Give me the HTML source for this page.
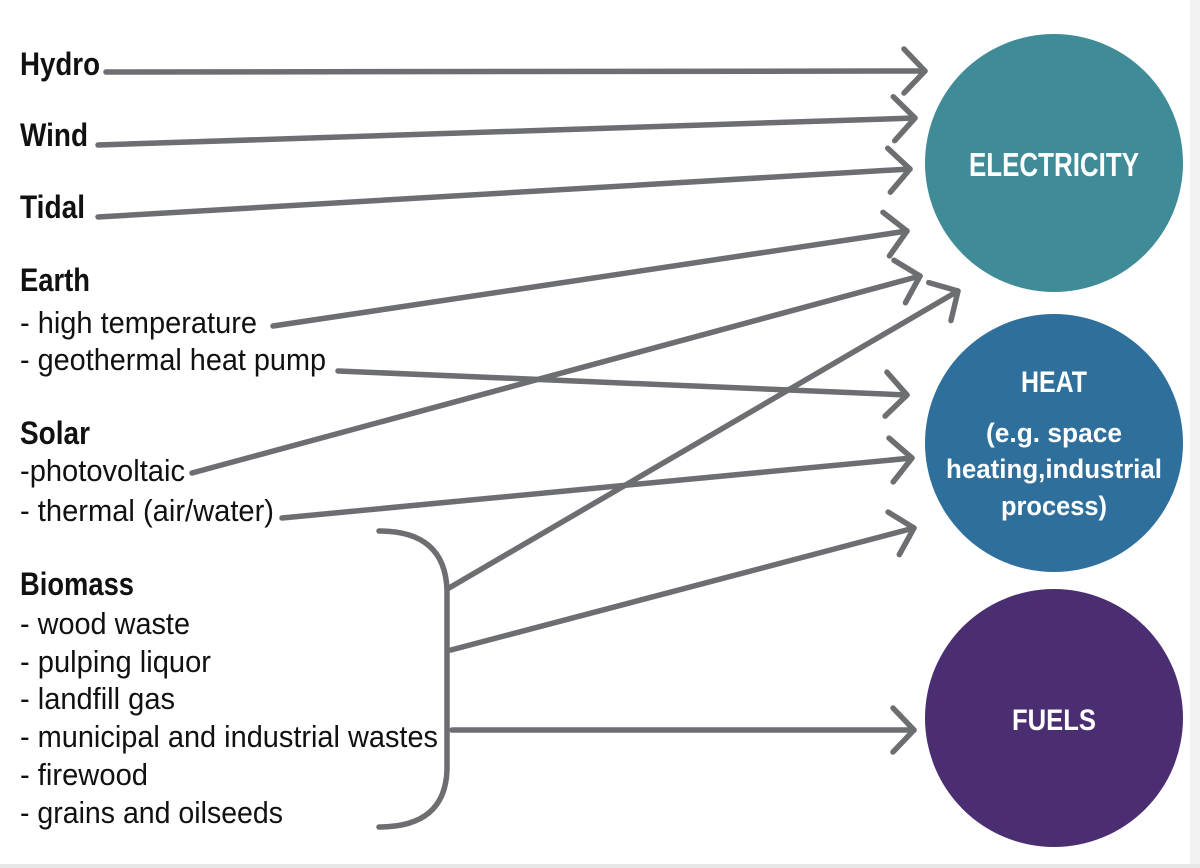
<!DOCTYPE html>
<html><head><meta charset="utf-8"><style>
html,body{margin:0;padding:0;background:#fff;}
svg{display:block;}
text{font-family:"Liberation Sans Narrow","Liberation Sans",sans-serif;fill:#111;}
</style></head><body>
<svg width="1200" height="868" viewBox="0 0 1200 868" xmlns="http://www.w3.org/2000/svg">
<defs>
<marker id="a" markerUnits="userSpaceOnUse" markerWidth="60" markerHeight="60" refX="0" refY="0" viewBox="-30 -30 60 60" orient="auto">
<path d="M-21,-22 L0,0 L-21,22" fill="none" stroke="#6d6e71" stroke-width="5.5" stroke-linecap="round" stroke-linejoin="round"/>
</marker>
</defs>
<rect x="1190" y="0" width="10" height="868" fill="#f2f2f2"/>
<rect x="0" y="864" width="1200" height="4" fill="#e6e6e6"/>
<circle cx="1054" cy="163" r="129" fill="#3f8b97"/>
<circle cx="1054" cy="443" r="129" fill="#2f6f9c"/>
<circle cx="1054" cy="718" r="129" fill="#4b2e72"/>
<g font-weight="bold" text-anchor="middle" style="fill:#fff">
<text x="1054" y="176" font-size="33" textLength="170" lengthAdjust="spacingAndGlyphs" style="fill:#fff">ELECTRICITY</text>
<text x="1054" y="392" font-size="30" textLength="66" lengthAdjust="spacingAndGlyphs" style="fill:#fff">HEAT</text>
<text x="1054" y="442" font-size="27" textLength="136" lengthAdjust="spacingAndGlyphs" style="fill:#fff">(e.g. space</text>
<text x="1054" y="478" font-size="27" textLength="216" lengthAdjust="spacingAndGlyphs" style="fill:#fff">heating,industrial</text>
<text x="1054" y="515" font-size="27" textLength="106" lengthAdjust="spacingAndGlyphs" style="fill:#fff">process)</text>
<text x="1054" y="730" font-size="30" textLength="84" lengthAdjust="spacingAndGlyphs" style="fill:#fff">FUELS</text>
</g>
<g font-size="32" font-weight="bold">
<text x="20" y="75" textLength="80" lengthAdjust="spacingAndGlyphs">Hydro</text>
<text x="20" y="146" textLength="68" lengthAdjust="spacingAndGlyphs">Wind</text>
<text x="20" y="218" textLength="65" lengthAdjust="spacingAndGlyphs">Tidal</text>
<text x="20" y="291" textLength="70" lengthAdjust="spacingAndGlyphs">Earth</text>
<text x="20" y="444" textLength="70" lengthAdjust="spacingAndGlyphs">Solar</text>
<text x="20" y="595" textLength="114" lengthAdjust="spacingAndGlyphs">Biomass</text>
</g>
<g font-size="31">
<text x="20" y="333" textLength="237" lengthAdjust="spacingAndGlyphs">- high temperature</text>
<text x="20" y="370" textLength="306" lengthAdjust="spacingAndGlyphs">- geothermal heat pump</text>
<text x="20" y="481" textLength="165" lengthAdjust="spacingAndGlyphs">-photovoltaic</text>
<text x="20" y="521" textLength="254" lengthAdjust="spacingAndGlyphs">- thermal (air/water)</text>
<text x="20" y="634" textLength="170" lengthAdjust="spacingAndGlyphs">- wood waste</text>
<text x="20" y="672" textLength="191" lengthAdjust="spacingAndGlyphs">- pulping liquor</text>
<text x="20" y="709" textLength="155" lengthAdjust="spacingAndGlyphs">- landfill gas</text>
<text x="20" y="747" textLength="418" lengthAdjust="spacingAndGlyphs">- municipal and industrial wastes</text>
<text x="20" y="785" textLength="128" lengthAdjust="spacingAndGlyphs">- firewood</text>
<text x="20" y="823" textLength="263" lengthAdjust="spacingAndGlyphs">- grains and oilseeds</text>
</g>
<g stroke="#6d6e71" stroke-width="5.5" fill="none" stroke-linecap="round" marker-end="url(#a)">
<line x1="106" y1="72" x2="925" y2="71"/>
<line x1="98" y1="145" x2="915" y2="118"/>
<line x1="98" y1="217" x2="910" y2="169"/>
<line x1="273" y1="326" x2="907" y2="231"/>
<line x1="192" y1="473" x2="920" y2="276"/>
<line x1="338" y1="371" x2="907" y2="395"/>
<line x1="282" y1="518" x2="912" y2="458"/>
<line x1="449" y1="588" x2="958" y2="291"/>
<line x1="451" y1="650" x2="914" y2="528"/>
<line x1="452" y1="730" x2="914" y2="730"/>
</g>
<path d="M379,531 Q445,531 447,590 L447,770 Q445,827 379,827" stroke="#6d6e71" stroke-width="5.5" fill="none" stroke-linecap="round"/>
</svg>
</body></html>
